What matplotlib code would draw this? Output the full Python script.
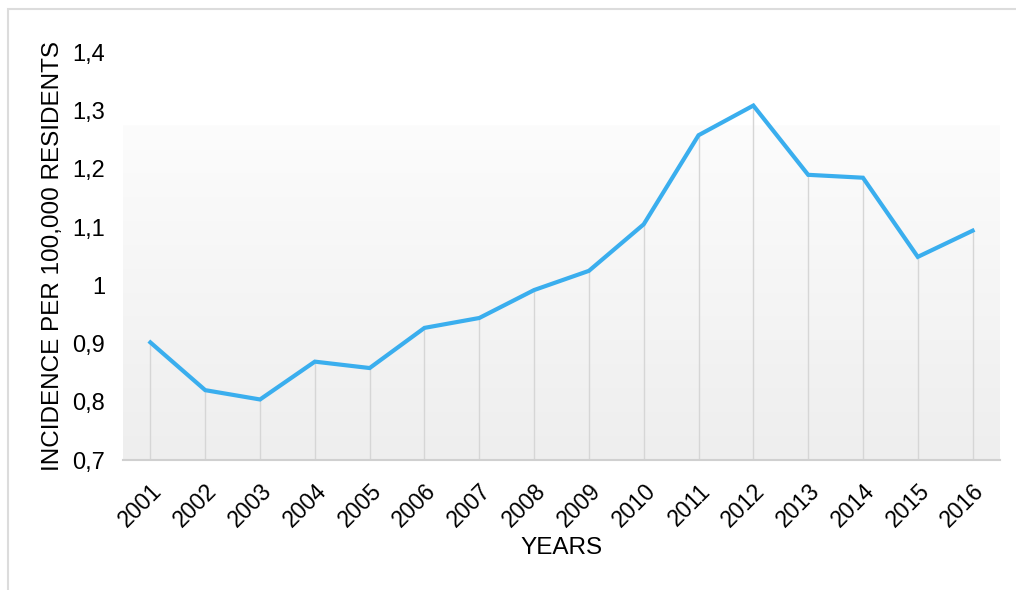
import matplotlib.pyplot as plt
import numpy as np
from matplotlib.patches import Rectangle
from matplotlib.colors import LinearSegmentedColormap

years = ["2001", "2002", "2003", "2004", "2005", "2006", "2007", "2008",
         "2009", "2010", "2011", "2012", "2013", "2014", "2015", "2016"]
incidence = [0.902, 0.820, 0.804, 0.869, 0.858, 0.927, 0.944, 0.992,
             1.025, 1.105, 1.258, 1.309, 1.190, 1.185, 1.049, 1.094]
yticks = [0.7, 0.8, 0.9, 1.0, 1.1, 1.2, 1.3, 1.4]
ytick_labels = ["0,7", "0,8", "0,9", "1", "1,1", "1,2", "1,3", "1,4"]

plt.rcParams['font.family'] = ['Liberation Sans', 'DejaVu Sans']

fig = plt.figure(figsize=(10.16, 5.90), dpi=100)
ax = fig.add_axes([123 / 1016, 1 - 460 / 590, 877 / 1016, 407.4 / 590])

x = np.arange(len(years))
ax.set_xlim(-0.5, len(years) - 0.5)
ax.set_ylim(0.7, 1.4)

# soft gradient background, white above ~1.28
bg = LinearSegmentedColormap.from_list(
    'bg', [(0.0, '#eeeeee'), (0.82, '#fcfcfc'), (0.821, '#ffffff'), (1.0, '#ffffff')])
grad = np.linspace(0.0, 1.0, 256).reshape(-1, 1)
ax.imshow(grad, extent=(-0.5, len(years) - 0.5, 0.7, 1.4), aspect='auto',
          cmap=bg, origin='lower', zorder=0, vmin=0, vmax=1)

# drop lines
ax.vlines(x, 0.7, incidence, color='#d6d6d6', linewidth=1, zorder=1)
ax.plot(x, incidence, color='#3aaeee', linewidth=3, solid_joinstyle='miter', zorder=3)

ax.set_xticks(x)
ax.set_xticklabels(years, rotation=45, ha='right', rotation_mode='anchor', fontsize=16.5)
ax.set_yticks(yticks)
ax.set_yticklabels(ytick_labels, fontsize=17)
ax.tick_params(length=0)
ax.tick_params(axis='x', pad=14)
ax.tick_params(axis='y', pad=13)

for s in ['top', 'right', 'left']:
    ax.spines[s].set_visible(False)
ax.spines['bottom'].set_color('#d0d0d0')
ax.spines['bottom'].set_linewidth(1.5)

ax.set_xlabel("YEARS", fontsize=17.5, labelpad=4)
ax.set_ylabel("INCIDENCE PER 100,000 RESIDENTS", fontsize=17.5, labelpad=6)

# outer frame
fig.patches.append(Rectangle((8 / 1016, -0.1), 1.2, 1.1 - 9 / 590,
                             transform=fig.transFigure, fill=False,
                             edgecolor='#dcdcdc', linewidth=1.5))

plt.savefig('out.png', dpi=100)
